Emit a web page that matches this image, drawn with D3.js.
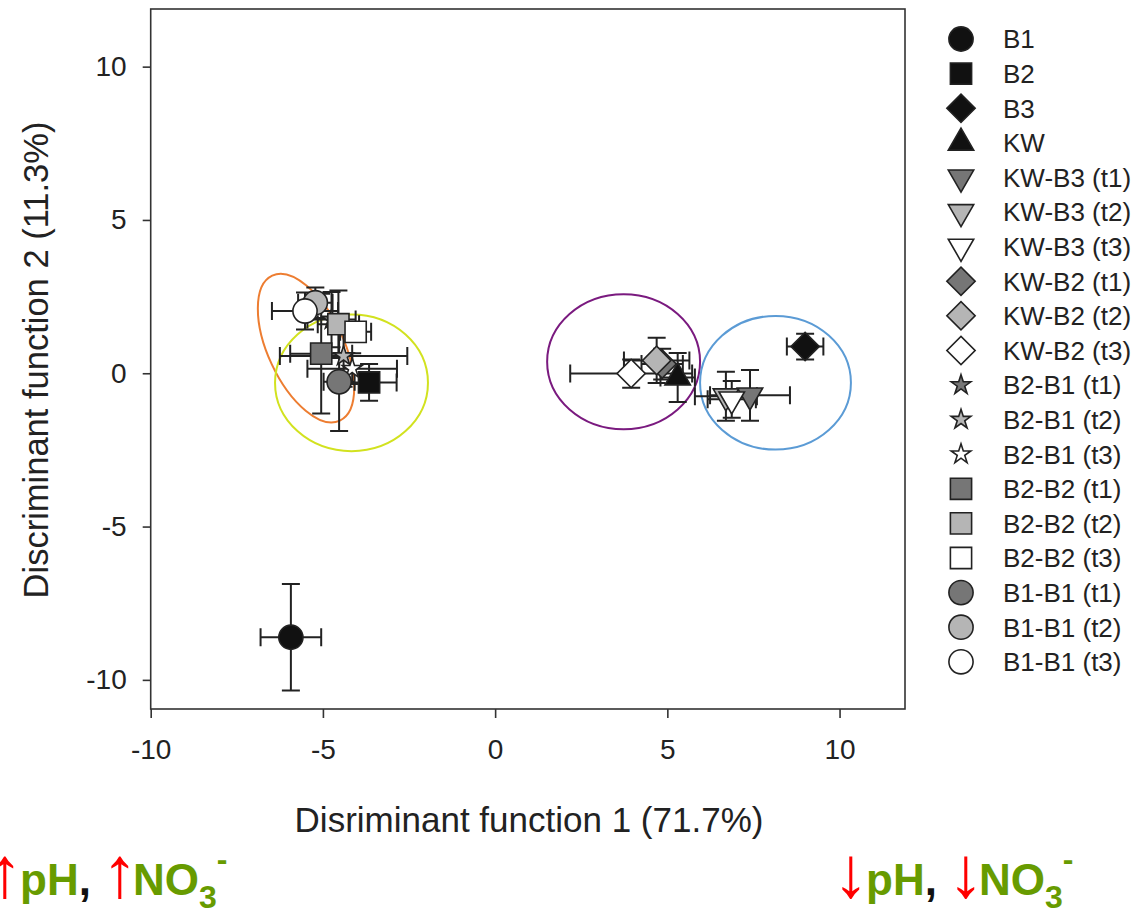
<!DOCTYPE html>
<html>
<head>
<meta charset="utf-8">
<script src="https://cdn.jsdelivr.net/npm/d3@7"></script>
<style>
  body { margin: 0; background: #fff; }
  text { font-family: "Liberation Sans", Arial, sans-serif; fill: #222; }
</style>
</head>
<body>
<div id="chart"></div>
<script>
// group names, in legend order
const groups = ['B1', 'B2', 'B3', 'KW',
  'KW-B3 (t1)', 'KW-B3 (t2)', 'KW-B3 (t3)',
  'KW-B2 (t1)', 'KW-B2 (t2)', 'KW-B2 (t3)',
  'B2-B1 (t1)', 'B2-B1 (t2)', 'B2-B1 (t3)',
  'B2-B2 (t1)', 'B2-B2 (t2)', 'B2-B2 (t3)',
  'B1-B1 (t1)', 'B1-B1 (t2)', 'B1-B1 (t3)'];

// discriminant function scores (means) and their errors
const df1 = [-5.93, -3.66, 9.0, 5.3, 7.4, 6.7, 6.87, 4.85, 4.69, 3.95, -4.75, -4.4, -4.15, -5.05, -4.55, -4.05, -4.53, -5.22, -5.52];
const df2 = [-8.61, -0.3, 0.87, -0.14, -0.72, -0.75, -0.85, 0.3, 0.42, -0.01, 1.75, 0.56, 0.15, 0.64, 1.6, 1.35, -0.28, 2.3, 2.03];
const err1 = [0.88, 0.8, 0.53, 0.5, 1.16, 0.9, 0.7, 0.6, 0.95, 1.77, 0.7, 1.85, 1.3, 0.9, 0.6, 0.45, 0.45, 0.5, 0.96];
const err2 = [1.74, 0.6, 0.42, 0.8, 0.83, 0.8, 0.6, 0.5, 0.74, 0.46, 0.9, 1.0, 0.5, 1.95, 1.1, 0.3, 1.6, 0.5, 0.6];

const xTicks = [-10, -5, 0, 5, 10];
const yTicks = [-10, -5, 0, 5, 10];

// cluster outlines (data units)
const ringX = [-5.49, -4.17, 3.73, 8.14];
const ringY = [0.82, -0.31, 0.375, -0.31];
const ringRx = [1.1, 2.22, 2.22, 2.19];
const ringRy = [2.61, 2.23, 2.2, 2.18];
const ringTilt = [-25, 0, 0, 0];
const ringColors = ['#ed7d31', '#d2e21f', '#7a1a7f', '#5b9bd5'];

const W = 1136, H = 910;

const x = d3.scaleLinear().domain([-10, 11.9]).range([150.7, 905]);
const y = d3.scaleLinear().domain([-10.95, 11.88]).range([709, 9]);
const pxX = x(1) - x(0), pxY = y(0) - y(1);

const svg = d3.select('#chart').append('svg')
  .attr('width', W)
  .attr('height', H);

// shape from group name, fill from time step
function shapeOf(name) {
  if (name.startsWith('KW-B3')) return 'down';
  if (name.startsWith('KW-B2') || name === 'B3') return 'diamond';
  if (name.startsWith('B2-B1')) return 'star';
  if (name.startsWith('B2-B2') || name === 'B2') return 'square';
  if (name === 'KW') return 'up';
  return 'circle';
}
function fillOf(name) {
  if (name.includes('(t1)')) return '#767676';
  if (name.includes('(t2)')) return '#b5b5b5';
  if (name.includes('(t3)')) return '#ffffff';
  return '#111';
}
const symbolPath = {
  circle: d3.symbol(d3.symbolCircle, 460)(),
  square: d3.symbol(d3.symbolSquare, 450)(),
  diamond: d3.symbol(d3.symbolSquare, 400)(),
  up: d3.symbol(d3.symbolTriangle, 280)(),
  down: d3.symbol(d3.symbolTriangle, 280)(),
  star: d3.symbol(d3.symbolStar, 120)()
};
const symbolRot = { circle: 0, square: 0, diamond: 45, up: 0, down: 180, star: 0 };

// frame
svg.append('rect')
  .attr('x', x(-10)).attr('y', y(11.88))
  .attr('width', x(11.9) - x(-10)).attr('height', y(-10.95) - y(11.88))
  .attr('fill', 'none').attr('stroke', '#333').attr('stroke-width', 1.6);

// axes
const xAxis = svg.append('g')
  .attr('transform', `translate(0,${y(-10.95)})`)
  .call(d3.axisBottom(x).tickValues(xTicks).tickFormat((d) => String(d)).tickSize(9).tickPadding(21).tickSizeOuter(0));
const yAxis = svg.append('g')
  .attr('transform', `translate(${x(-10)},0)`)
  .call(d3.axisLeft(y).tickValues(yTicks).tickFormat((d) => String(d)).tickSize(8).tickPadding(16).tickSizeOuter(0));
[xAxis, yAxis].forEach((g) => {
  g.select('.domain').remove();
  g.selectAll('line').attr('stroke', '#333').attr('stroke-width', 1.6);
  g.selectAll('text').style('font-size', '28px').style('font-family', '"Liberation Sans", Arial, sans-serif').attr('fill', '#222');
});

svg.append('text')
  .attr('x', 529).attr('y', 832)
  .attr('text-anchor', 'middle')
  .style('font-size', '35px')
  .text('Disriminant function 1 (71.7%)');

svg.append('text')
  .attr('transform', 'translate(48,360) rotate(-90)')
  .attr('text-anchor', 'middle')
  .style('font-size', '34.5px')
  .text('Discriminant function 2 (11.3%)');

// cluster rings
svg.append('g').selectAll('ellipse')
  .data(ringX)
  .join('ellipse')
  .attr('transform', (d, i) => `translate(${x(d)},${y(ringY[i])}) rotate(${ringTilt[i]})`)
  .attr('rx', (d, i) => ringRx[i] * pxX)
  .attr('ry', (d, i) => ringRy[i] * pxY)
  .attr('fill', 'none')
  .attr('stroke', (d, i) => ringColors[i])
  .attr('stroke-width', 2);

const pts = groups.map((g, i) => ({ name: g, dx: df1[i], dy: df2[i], ex: err1[i], ey: err2[i] }));

// error bars
const cap = 9;
const eb = svg.append('g').attr('stroke', '#222').attr('stroke-width', 2).attr('fill', 'none');
pts.forEach((p) => {
  const cx = x(p.dx), cy = y(p.dy);
  const x0 = x(p.dx - p.ex), x1 = x(p.dx + p.ex);
  const y0 = y(p.dy - p.ey), y1 = y(p.dy + p.ey);
  eb.append('path').attr('d',
    `M${x0},${cy}H${x1}M${x0},${cy - cap}V${cy + cap}M${x1},${cy - cap}V${cy + cap}` +
    `M${cx},${y0}V${y1}M${cx - cap},${y0}H${cx + cap}M${cx - cap},${y1}H${cx + cap}`);
});

// markers
svg.append('g').selectAll('path')
  .data(pts)
  .join('path')
  .attr('d', (d) => symbolPath[shapeOf(d.name)])
  .attr('transform', (d) => `translate(${x(d.dx)},${y(d.dy)}) rotate(${symbolRot[shapeOf(d.name)]})`)
  .attr('fill', (d) => fillOf(d.name))
  .attr('stroke', '#222')
  .attr('stroke-width', 1.6);

// legend
const legend = svg.append('g').selectAll('g')
  .data(groups)
  .join('g')
  .attr('transform', (d, i) => `translate(961,${39 + i * 34.6})`);
legend.append('path')
  .attr('d', (d) => symbolPath[shapeOf(d)])
  .attr('transform', (d) => `rotate(${symbolRot[shapeOf(d)]})`)
  .attr('fill', (d) => fillOf(d))
  .attr('stroke', '#222')
  .attr('stroke-width', 1.6);
legend.append('text')
  .attr('x', 42)
  .attr('dy', '0.36em')
  .style('font-size', '26px')
  .text((d) => d);

// direction notes under the axis
function arrowText(cx, ch) {
  svg.append('text')
    .attr('x', cx).attr('y', 897)
    .attr('text-anchor', 'middle')
    .attr('fill', '#f00')
    .style('fill', '#f00')
    .style('font-size', '72px')
    .text(ch);
}
function note(x0, ch) {
  arrowText(x0 - 15, ch);
  arrowText(x0 + 100, ch);
  const t = svg.append('text').attr('y', 895).style('font-size', '44px').style('font-weight', 'bold');
  t.append('tspan').attr('x', x0).style('fill', '#679b00').text('pH');
  t.append('tspan').style('fill', '#111').text(',');
  t.append('tspan').attr('x', x0 + 113).style('fill', '#679b00').text('NO');
  t.append('tspan').style('fill', '#679b00').attr('dy', 13).style('font-size', '32px').text('3');
  t.append('tspan').style('fill', '#679b00').attr('dy', -38).style('font-size', '32px').text('-');
}
note(20, '\u2191');
note(866, '\u2193');
</script>
</body>
</html>
